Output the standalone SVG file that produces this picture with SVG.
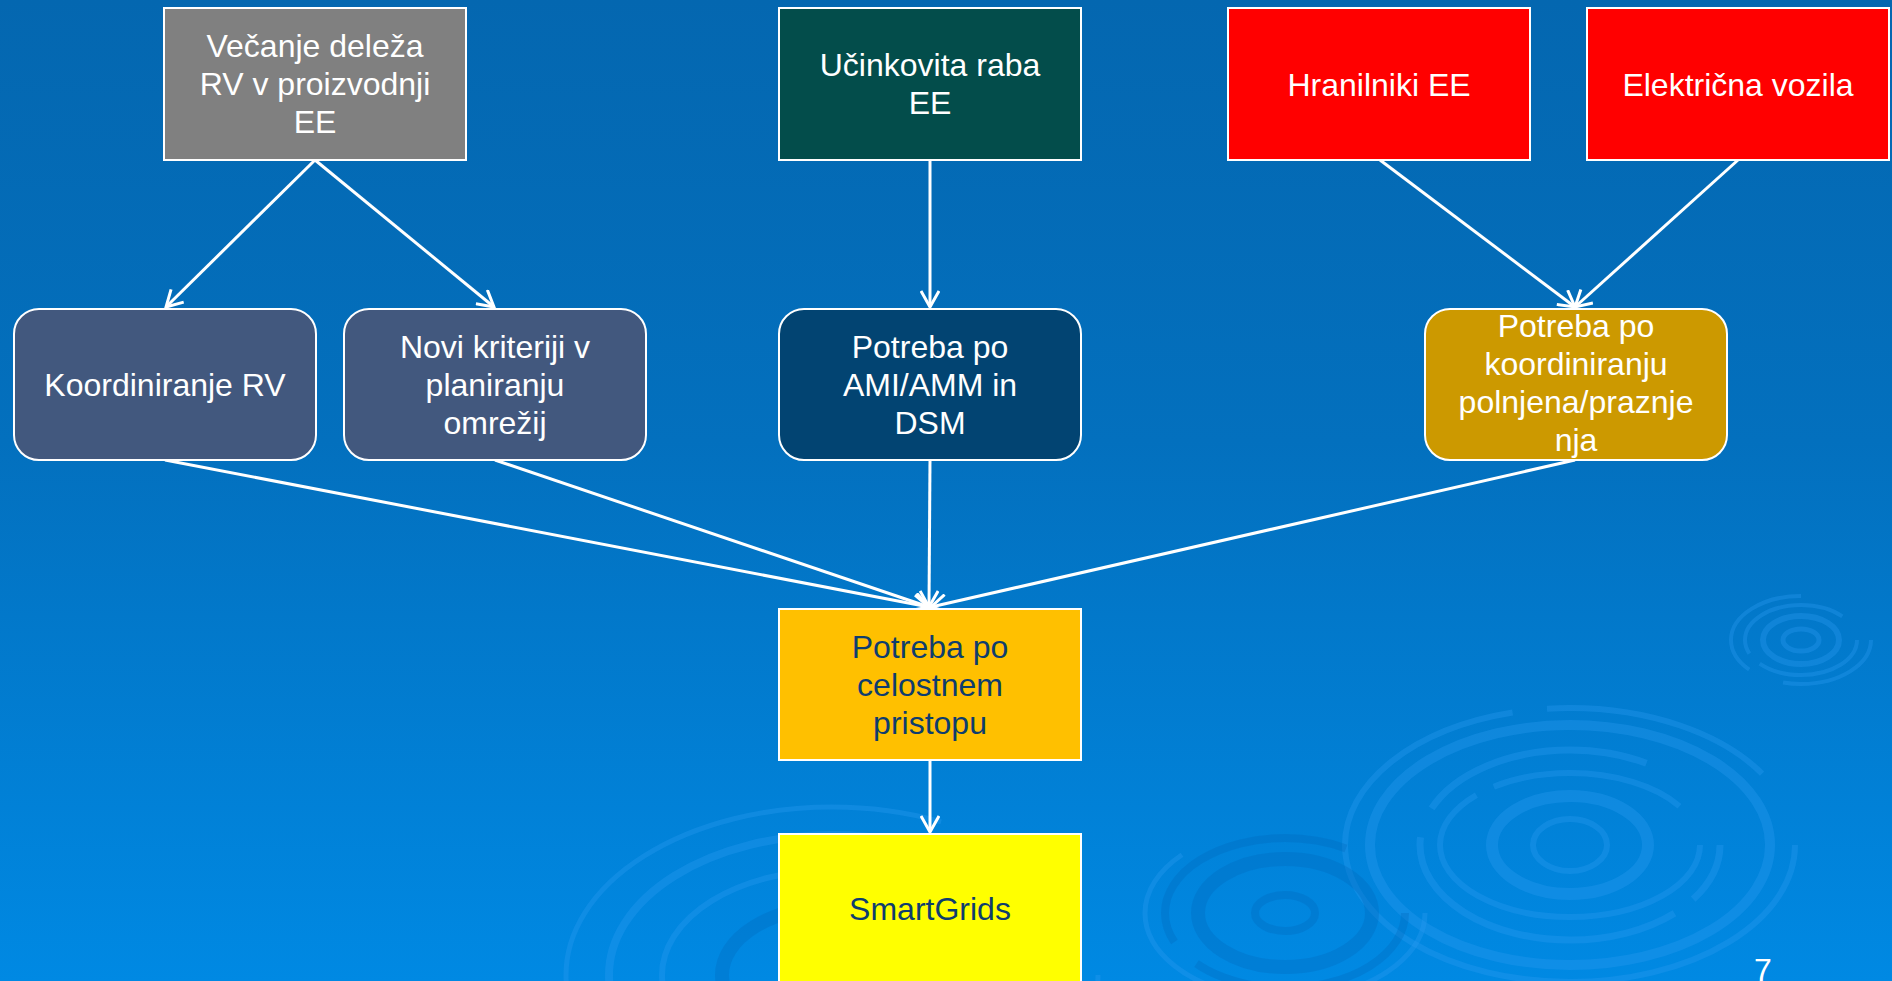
<svg xmlns="http://www.w3.org/2000/svg" width="1892" height="981" viewBox="0 0 1892 981">
<defs>
<linearGradient id="bg" x1="0" y1="0" x2="0" y2="1">
<stop offset="0" stop-color="#0467B0"/>
<stop offset="0.45" stop-color="#0370BE"/>
<stop offset="1" stop-color="#0089E3"/>
</linearGradient>
<marker id="arr" viewBox="0 0 20 20" refX="18" refY="10" markerWidth="20" markerHeight="20" markerUnits="userSpaceOnUse" orient="auto">
<path d="M2,1 L18,10 L2,19" fill="none" stroke="#FFFFFF" stroke-width="3"/>
</marker>
<style>
.box{stroke:#FFFFFF;stroke-width:2}
.t{font-family:"Liberation Sans",Arial,sans-serif;font-size:32px;fill:#FFFFFF;text-anchor:middle}
.td{font-family:"Liberation Sans",Arial,sans-serif;font-size:32px;fill:#0E3D6E;text-anchor:middle}
.con{stroke:#FFFFFF;stroke-width:3;fill:none;marker-end:url(#arr)}
.rip{fill:none;stroke:#2A9BF2;stroke-opacity:0.35}
.rpd{fill:none;stroke:#0068B8;stroke-opacity:0.3}
</style>
</defs>
<rect x="0" y="0" width="1892" height="981" fill="url(#bg)"/>
<g id="ripples">
<g transform="translate(1570,845)">
<ellipse class="rip" rx="37" ry="26" stroke-width="6"/>
<ellipse class="rip" rx="78" ry="49" stroke-width="12"/>
<ellipse class="rip" rx="130" ry="72" stroke-width="6" pathLength="100" stroke-dasharray="60 3 30 7"/>
<ellipse class="rip" rx="150" ry="95" stroke-width="7" pathLength="100" stroke-dasharray="8 3 40 4 30 15"/>
<ellipse class="rip" rx="200" ry="120" stroke-width="10"/>
<ellipse class="rip" rx="225" ry="137" stroke-width="6" pathLength="100" stroke-dasharray="70 3 20 7"/>
</g>
<g transform="translate(1285,913)">
<ellipse class="rpd" rx="30" ry="18" stroke-width="8"/>
<ellipse class="rpd" rx="87" ry="54" stroke-width="14"/>
<ellipse class="rpd" rx="120" ry="75" stroke-width="8" pathLength="100" stroke-dasharray="40 5 40 15"/>
<ellipse class="rip" rx="140" ry="86" stroke-width="5" pathLength="100" stroke-dasharray="20 10 30 40"/>
</g>
<g transform="translate(1801,640)">
<ellipse class="rip" rx="18" ry="11" stroke-width="5"/>
<ellipse class="rip" rx="38" ry="24" stroke-width="6"/>
<ellipse class="rip" rx="56" ry="35" stroke-width="4" pathLength="100" stroke-dasharray="40 5 45 10"/>
<ellipse class="rip" rx="70" ry="44" stroke-width="4" pathLength="100" stroke-dasharray="30 10 35 25"/>
</g>
<g transform="translate(832,975)">
<ellipse class="rpd" rx="110" ry="68" stroke-width="14"/>
<ellipse class="rip" rx="170" ry="105" stroke-width="6" pathLength="100" stroke-dasharray="30 5 40 25"/>
<ellipse class="rip" rx="223" ry="140" stroke-width="8" pathLength="100" stroke-dasharray="35 6 45 14"/>
<ellipse class="rip" rx="266" ry="168" stroke-width="5" pathLength="100" stroke-dasharray="25 8 50 17"/>
</g>
</g>
<g id="connectors">
<line class="con" x1="315" y1="160" x2="166" y2="307"/>
<line class="con" x1="315" y1="160" x2="494" y2="307"/>
<line class="con" x1="930" y1="160" x2="930" y2="307"/>
<line class="con" x1="1380" y1="160" x2="1575" y2="307"/>
<line class="con" x1="1738" y1="160" x2="1575" y2="307"/>
<line class="con" x1="165" y1="460" x2="929" y2="607"/>
<line class="con" x1="495" y1="460" x2="929" y2="607"/>
<line class="con" x1="930" y1="460" x2="929" y2="607"/>
<line class="con" x1="1575" y1="460" x2="931" y2="607"/>
<line class="con" x1="930" y1="760" x2="930" y2="832"/>
</g>
<g id="n_vecanje">
<rect class="box" x="164" y="8" width="302" height="152" fill="#808080"/>
<text class="t" x="315" y="57">Večanje deleža</text>
<text class="t" x="315" y="95">RV v proizvodnji</text>
<text class="t" x="315" y="133">EE</text>
</g>
<g id="n_ucinkovita">
<rect class="box" x="779" y="8" width="302" height="152" fill="#034D4B"/>
<text class="t" x="930" y="76">Učinkovita raba</text>
<text class="t" x="930" y="114">EE</text>
</g>
<g id="n_hranilniki">
<rect class="box" x="1228" y="8" width="302" height="152" fill="#FF0000"/>
<text class="t" x="1379" y="96">Hranilniki EE</text>
</g>
<g id="n_vozila">
<rect class="box" x="1587" y="8" width="302" height="152" fill="#FF0000"/>
<text class="t" x="1738" y="96">Električna vozila</text>
</g>
<g id="n_koordiniranje">
<rect class="box" x="14" y="309" width="302" height="151" rx="25" fill="#42587E"/>
<text class="t" x="165" y="396">Koordiniranje RV</text>
</g>
<g id="n_novi">
<rect class="box" x="344" y="309" width="302" height="151" rx="25" fill="#42587E"/>
<text class="t" x="495" y="358">Novi kriteriji v</text>
<text class="t" x="495" y="396">planiranju</text>
<text class="t" x="495" y="434">omrežij</text>
</g>
<g id="n_ami">
<rect class="box" x="779" y="309" width="302" height="151" rx="25" fill="#024472"/>
<text class="t" x="930" y="358">Potreba po</text>
<text class="t" x="930" y="396">AMI/AMM in</text>
<text class="t" x="930" y="434">DSM</text>
</g>
<g id="n_polnjenje">
<rect class="box" x="1425" y="309" width="302" height="151" rx="25" fill="#CC9900"/>
<text class="t" x="1576" y="337">Potreba po</text>
<text class="t" x="1576" y="375">koordiniranju</text>
<text class="t" x="1576" y="413">polnjena/praznje</text>
<text class="t" x="1576" y="451">nja</text>
</g>
<g id="n_celostni">
<rect class="box" x="779" y="609" width="302" height="151" fill="#FFC000"/>
<text class="td" x="930" y="658">Potreba po</text>
<text class="td" x="930" y="696">celostnem</text>
<text class="td" x="930" y="734">pristopu</text>
</g>
<g id="n_smartgrids">
<rect class="box" x="779" y="834" width="302" height="160" fill="#FFFF00"/>
<text class="td" x="930" y="920">SmartGrids</text>
</g>
<text class="t" x="1763" y="981">7</text>
</svg>
